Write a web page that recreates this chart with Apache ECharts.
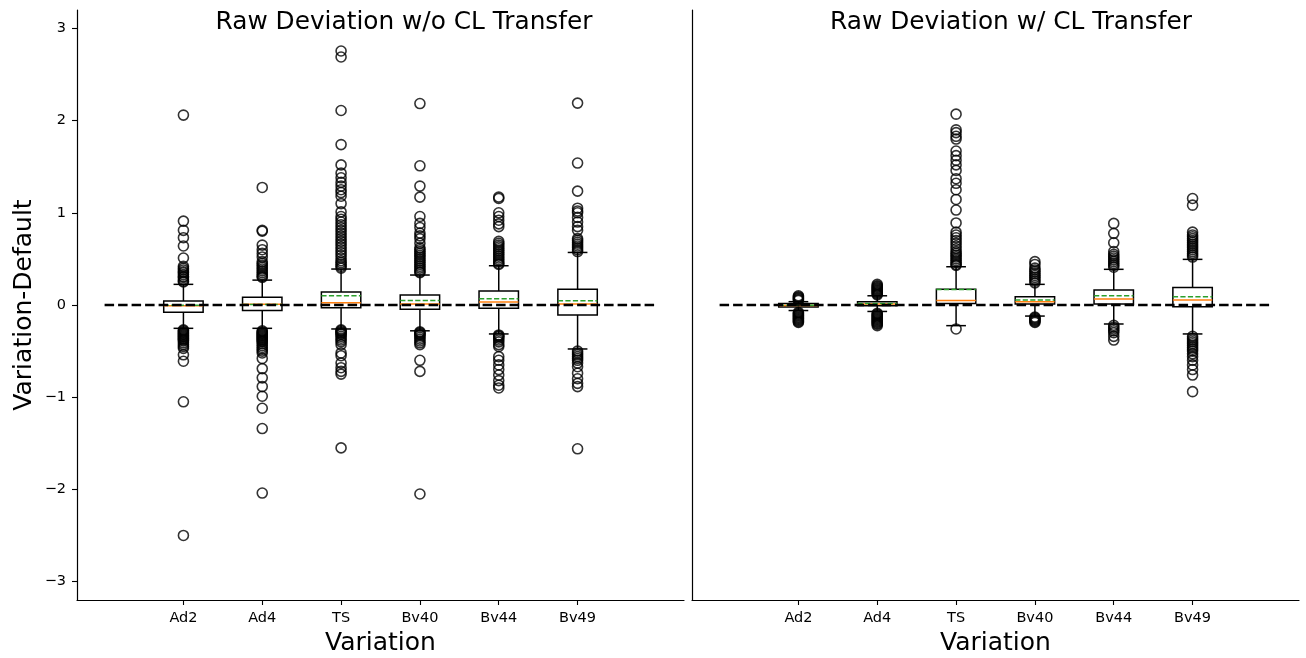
<!DOCTYPE html>
<html><head><meta charset="utf-8">
<script src="https://cdn.jsdelivr.net/npm/echarts@6/dist/echarts.min.js"></script>
<style>html,body{margin:0;padding:0;background:#fff}#c{width:1306px;height:658px}</style>
</head><body><div id="c"></div>
<script>
const categories = ['Ad2', 'Ad4', 'TS', 'Bv40', 'Bv44', 'Bv49'];
const positions = [1, 2, 3, 4, 5, 6];
const yTicks = [-3, -2, -1, 0, 1, 2, 3];
const panelTitles = ['Raw Deviation w/o CL Transfer', 'Raw Deviation w/ CL Transfer'];
const zeroLine = [[0, 0], [7, 0]];

// Left panel: w/o CL Transfer
const leftLow    = [-0.253, -0.253, -0.26, -0.28, -0.314, -0.477];
const leftQ1     = [-0.079, -0.06, -0.03, -0.047, -0.036, -0.108];
const leftMedian = [-0.007, 0.008, 0.025, 0.01, 0.033, 0.01];
const leftQ3     = [0.043, 0.083, 0.14, 0.108, 0.152, 0.17];
const leftHigh   = [0.224, 0.27, 0.39, 0.325, 0.426, 0.57];
const leftMean   = [-0.003, 0.006, 0.10, 0.05, 0.068, 0.047];
const leftOutliers = [
  [2.06, 0.91, 0.81, 0.73, 0.64, 0.51, 0.42, 0.40, 0.38, 0.36, 0.35, 0.33, 0.31, 0.30, 0.28, 0.26, 0.25,
   -0.27, -0.28, -0.29, -0.30, -0.31, -0.32, -0.33, -0.34, -0.35, -0.36, -0.37, -0.38, -0.39, -0.41, -0.43, -0.45, -0.47, -0.54, -0.61, -1.05, -2.5],
  [1.275, 0.81, 0.80, 0.65, 0.60, 0.56, 0.52, 0.47, 0.45, 0.43, 0.41, 0.39, 0.37, 0.35, 0.33, 0.31, 0.30,
   -0.28, -0.29, -0.30, -0.31, -0.32, -0.33, -0.34, -0.35, -0.36, -0.37, -0.38, -0.39, -0.40, -0.42, -0.44, -0.46, -0.48, -0.50, -0.52, -0.58, -0.69, -0.79, -0.885, -0.99, -1.12, -1.34, -2.04],
  [2.755, 2.69, 2.11, 1.74, 1.52, 1.43, 1.38, 1.33, 1.29, 1.25, 1.22, 1.18, 1.10, 1.01, 0.96, 0.93, 0.90, 0.87, 0.84, 0.81, 0.78, 0.75, 0.72, 0.69, 0.66, 0.63, 0.60, 0.57, 0.54, 0.51, 0.48, 0.46, 0.44, 0.42, 0.40,
   -0.27, -0.28, -0.29, -0.30, -0.31, -0.32, -0.34, -0.36, -0.38, -0.40, -0.43, -0.52, -0.55, -0.63, -0.68, -0.72, -0.75, -1.55],
  [2.185, 1.51, 1.29, 1.17, 0.96, 0.885, 0.84, 0.78, 0.75, 0.72, 0.67, 0.62, 0.60, 0.58, 0.56, 0.54, 0.52, 0.50, 0.48, 0.46, 0.44, 0.42, 0.40, 0.38, 0.36, 0.35,
   -0.29, -0.30, -0.31, -0.32, -0.33, -0.35, -0.37, -0.39, -0.41, -0.43, -0.60, -0.72, -2.05],
  [1.17, 1.155, 1.0, 0.96, 0.92, 0.88, 0.85, 0.69, 0.67, 0.65, 0.63, 0.61, 0.59, 0.57, 0.55, 0.53, 0.51, 0.49, 0.47, 0.45, 0.44,
   -0.325, -0.335, -0.345, -0.36, -0.38, -0.40, -0.43, -0.45, -0.56, -0.60, -0.65, -0.70, -0.76, -0.82, -0.87, -0.90],
  [2.19, 1.54, 1.235, 1.05, 1.02, 1.0, 0.95, 0.90, 0.85, 0.81, 0.72, 0.70, 0.68, 0.66, 0.64, 0.62, 0.60, 0.58,
   -0.50, -0.52, -0.54, -0.56, -0.58, -0.60, -0.63, -0.67, -0.74, -0.80, -0.85, -0.885, -1.56]
];

// Right panel: w/ CL Transfer
const rightLow    = [-0.06, -0.07, -0.224, -0.12, -0.206, -0.314];
const rightQ1     = [-0.022, -0.008, 0.015, 0.011, 0.011, -0.018];
const rightMedian = [-0.005, 0.01, 0.05, 0.036, 0.065, 0.054];
const rightQ3     = [0.015, 0.036, 0.17, 0.09, 0.163, 0.19];
const rightHigh   = [0.036, 0.10, 0.415, 0.224, 0.387, 0.495];
const rightMean   = [-0.003, 0.015, 0.168, 0.054, 0.10, 0.09];
const rightOutliers = [
  [0.05, 0.06, 0.07, 0.08, 0.09, 0.10,
   -0.08, -0.09, -0.10, -0.11, -0.12, -0.13, -0.14, -0.15, -0.16, -0.17, -0.18, -0.19],
  [0.11, 0.12, 0.13, 0.14, 0.15, 0.16, 0.17, 0.18, 0.19, 0.20, 0.21, 0.225,
   -0.09, -0.10, -0.11, -0.12, -0.13, -0.14, -0.15, -0.16, -0.17, -0.18, -0.19, -0.20, -0.21, -0.225],
  [2.07, 1.90, 1.87, 1.83, 1.80, 1.67, 1.62, 1.57, 1.52, 1.46, 1.37, 1.32, 1.25, 1.145, 1.03, 0.89, 0.79, 0.76, 0.73, 0.70, 0.67, 0.64, 0.61, 0.58, 0.56, 0.54, 0.52, 0.50, 0.48, 0.46, 0.44, 0.43,
   -0.26],
  [0.24, 0.26, 0.28, 0.30, 0.32, 0.34, 0.36, 0.38, 0.40, 0.44, 0.47,
   -0.13, -0.14, -0.15, -0.16, -0.17, -0.18, -0.19],
  [0.885, 0.777, 0.675, 0.58, 0.55, 0.53, 0.51, 0.49, 0.47, 0.45, 0.43, 0.41,
   -0.22, -0.24, -0.26, -0.28, -0.30, -0.34, -0.38],
  [1.155, 1.083, 0.79, 0.76, 0.74, 0.72, 0.70, 0.68, 0.66, 0.64, 0.62, 0.60, 0.58, 0.56, 0.54, 0.52,
   -0.34, -0.36, -0.38, -0.40, -0.42, -0.44, -0.46, -0.48, -0.50, -0.53, -0.56, -0.60, -0.65, -0.70, -0.76, -0.94]
];

const FONT = 'DejaVu Sans';
const minus = v => String(v).replace('-', '\u2212');

function boxRows(low, q1, med, q3, high, mean) {
  return positions.map((p, i) => [p, low[i], q1[i], med[i], q3[i], high[i], mean[i]]);
}
function flierRows(outs) {
  const rows = [];
  outs.forEach((arr, i) => arr.forEach(v => rows.push([positions[i], v])));
  return rows;
}
function renderBox(params, api) {
  const x = api.value(0), lo = api.value(1), q1 = api.value(2), md = api.value(3),
        q3 = api.value(4), hi = api.value(5), mn = api.value(6);
  const hw = 0.25, cw = 0.125;
  const c = (a, b) => api.coord([a, b]);
  const ln = (a, b, style) => ({ type: 'line', shape: { x1: a[0], y1: a[1], x2: b[0], y2: b[1] }, style: style });
  const blk = { stroke: '#000', lineWidth: 1.5 };
  const tl = c(x - hw, q3), br = c(x + hw, q1);
  return {
    type: 'group',
    children: [
      { type: 'rect', shape: { x: tl[0], y: tl[1], width: br[0] - tl[0], height: br[1] - tl[1] }, style: { fill: 'none', stroke: '#000', lineWidth: 1.5 } },
      ln(c(x, q1), c(x, lo), blk),
      ln(c(x, q3), c(x, hi), blk),
      ln(c(x - cw, lo), c(x + cw, lo), blk),
      ln(c(x - cw, hi), c(x + cw, hi), blk),
      ln(c(x - hw, md), c(x + hw, md), { stroke: '#ff7f0e', lineWidth: 1.5 }),
      ln(c(x - hw, mn), c(x + hw, mn), { stroke: '#2ca02c', lineWidth: 1.5, lineDash: [5.2, 2.3] })
    ]
  };
}

function xAxisFor(gi) {
  return {
    type: 'value', gridIndex: gi, min: -0.35, max: 7.35,
    name: 'Variation', nameLocation: 'middle', nameGap: 31,
    nameTextStyle: { fontFamily: FONT, fontSize: 25, color: '#000' },
    axisLine: { show: true, onZero: false, lineStyle: { color: '#000', width: 1.2 } },
    axisTick: { show: true, length: 5, customValues: positions, lineStyle: { color: '#000', width: 1.1 } },
    axisLabel: { show: true, customValues: positions, margin: 11, fontFamily: FONT, fontSize: 14.5, color: '#000',
                 formatter: v => categories[Math.round(v) - 1] },
    splitLine: { show: false }
  };
}
function yAxisFor(gi, labels) {
  const ax = {
    type: 'value', gridIndex: gi, min: -3.2, max: 3.2,
    axisLine: { show: true, onZero: false, lineStyle: { color: '#000', width: 1.2 } },
    axisTick: { show: labels, length: 5, customValues: yTicks, lineStyle: { color: '#000', width: 1.1 } },
    axisLabel: { show: labels, customValues: yTicks, margin: 11, fontFamily: FONT, fontSize: 14.5, color: '#000', formatter: v => minus(v) },
    splitLine: { show: false }
  };
  if (labels) {
    ax.name = 'Variation-Default';
    ax.nameLocation = 'middle';
    ax.nameRotate = 90;
    ax.nameGap = 40;
    ax.nameTextStyle = { fontFamily: FONT, fontSize: 25, color: '#000' };
  }
  return ax;
}

const panels = [
  { box: boxRows(leftLow, leftQ1, leftMedian, leftQ3, leftHigh, leftMean), fl: flierRows(leftOutliers) },
  { box: boxRows(rightLow, rightQ1, rightMedian, rightQ3, rightHigh, rightMean), fl: flierRows(rightOutliers) }
];

const series = [];
panels.forEach((p, gi) => {
  series.push({
    type: 'custom', xAxisIndex: gi, yAxisIndex: gi, data: p.box,
    encode: { x: 0, y: [1, 2, 3, 4, 5] }, renderItem: renderBox, z: 2, silent: true
  });
  series.push({
    type: 'scatter', xAxisIndex: gi, yAxisIndex: gi, data: p.fl, symbol: 'circle', symbolSize: 10,
    itemStyle: { color: 'rgba(0,0,0,0)', borderColor: '#000', borderWidth: 1.6 }, z: 3, silent: true
  });
  series.push({
    type: 'line', xAxisIndex: gi, yAxisIndex: gi, data: zeroLine, symbol: 'none',
    lineStyle: { color: '#000', width: 2.4, type: [9.5, 4] }, z: 4, silent: true
  });
});

const chart = echarts.init(document.getElementById('c'), null, { renderer: 'canvas' });
chart.setOption({
  animation: false,
  backgroundColor: '#fff',
  title: [
    { text: panelTitles[0], left: 399, top: 5, textAlign: 'center', textStyle: { fontFamily: FONT, fontSize: 24.8, fontWeight: 'normal', color: '#000' } },
    { text: panelTitles[1], left: 1006, top: 5, textAlign: 'center', textStyle: { fontFamily: FONT, fontSize: 24.8, fontWeight: 'normal', color: '#000' } }
  ],
  grid: [
    { left: 77, top: 10, width: 607, height: 590, outerBoundsMode: 'none', containLabel: false },
    { left: 692, top: 10, width: 607, height: 590, outerBoundsMode: 'none', containLabel: false }
  ],
  xAxis: [xAxisFor(0), xAxisFor(1)],
  yAxis: [yAxisFor(0, true), yAxisFor(1, false)],
  series: series
});
</script>
</body></html>
